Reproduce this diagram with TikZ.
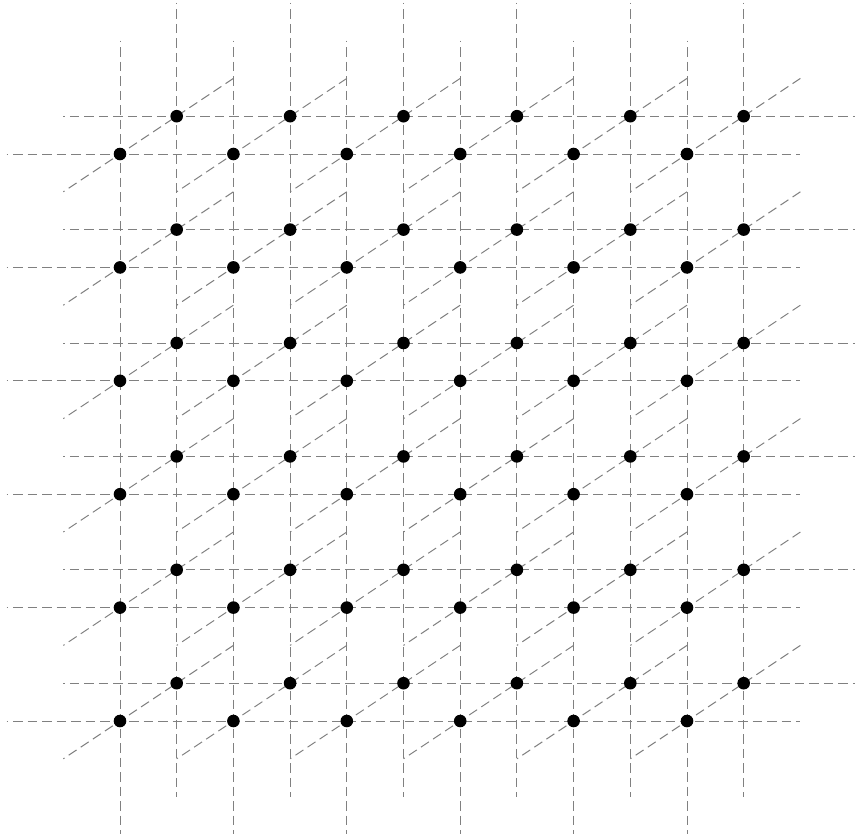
\documentclass[tikz,border=0pt]{standalone}
\usetikzlibrary{calc}
\begin{document}
\begin{tikzpicture}[x=1pt,y=-1pt,
  gridline/.style={draw=black!50, line width=1pt, dash pattern=on 9.5pt off 5pt, dash phase=8pt},
  dot/.style={circle, fill=black, inner sep=0pt, minimum size=12.6pt}]
\useasboundingbox (0,0) rectangle (855,839);
\def\U{113.4}
\foreach \i in {0,...,5} {
  \foreach \j in {0,...,5} {
    \coordinate (f\i\j) at ({120+\U*\i},{154+\U*\j});
    \coordinate (b\i\j) at ({176.7+\U*\i},{116.2+\U*\j});
  }
}
% horizontal and vertical lines of both layers
\foreach \k in {0,...,5} {
  \draw[gridline] ($(f0\k)+(-\U,0)$) -- ($(f5\k)+(\U,0)$);
  \draw[gridline] ($(b0\k)+(-\U,0)$) -- ($(b5\k)+(\U,0)$);
  \draw[gridline] ($(f\k0)+(0,-\U)$) -- ($(f\k5)+(0,\U)$);
  \draw[gridline] ($(b\k0)+(0,-\U)$) -- ($(b\k5)+(0,\U)$);
}
% depth lines
\foreach \i in {0,...,5} {
  \foreach \j in {0,...,5} {
    \draw[gridline] ($(f\i\j)+(-56.7,37.8)$) -- ($(b\i\j)+(56.7,-37.8)$);
  }
}
% dots
\foreach \i in {0,...,5} {
  \foreach \j in {0,...,5} {
    \node[dot] (F\i\j) at (f\i\j) {};
    \node[dot] (B\i\j) at (b\i\j) {};
  }
}
\end{tikzpicture}
\end{document}
